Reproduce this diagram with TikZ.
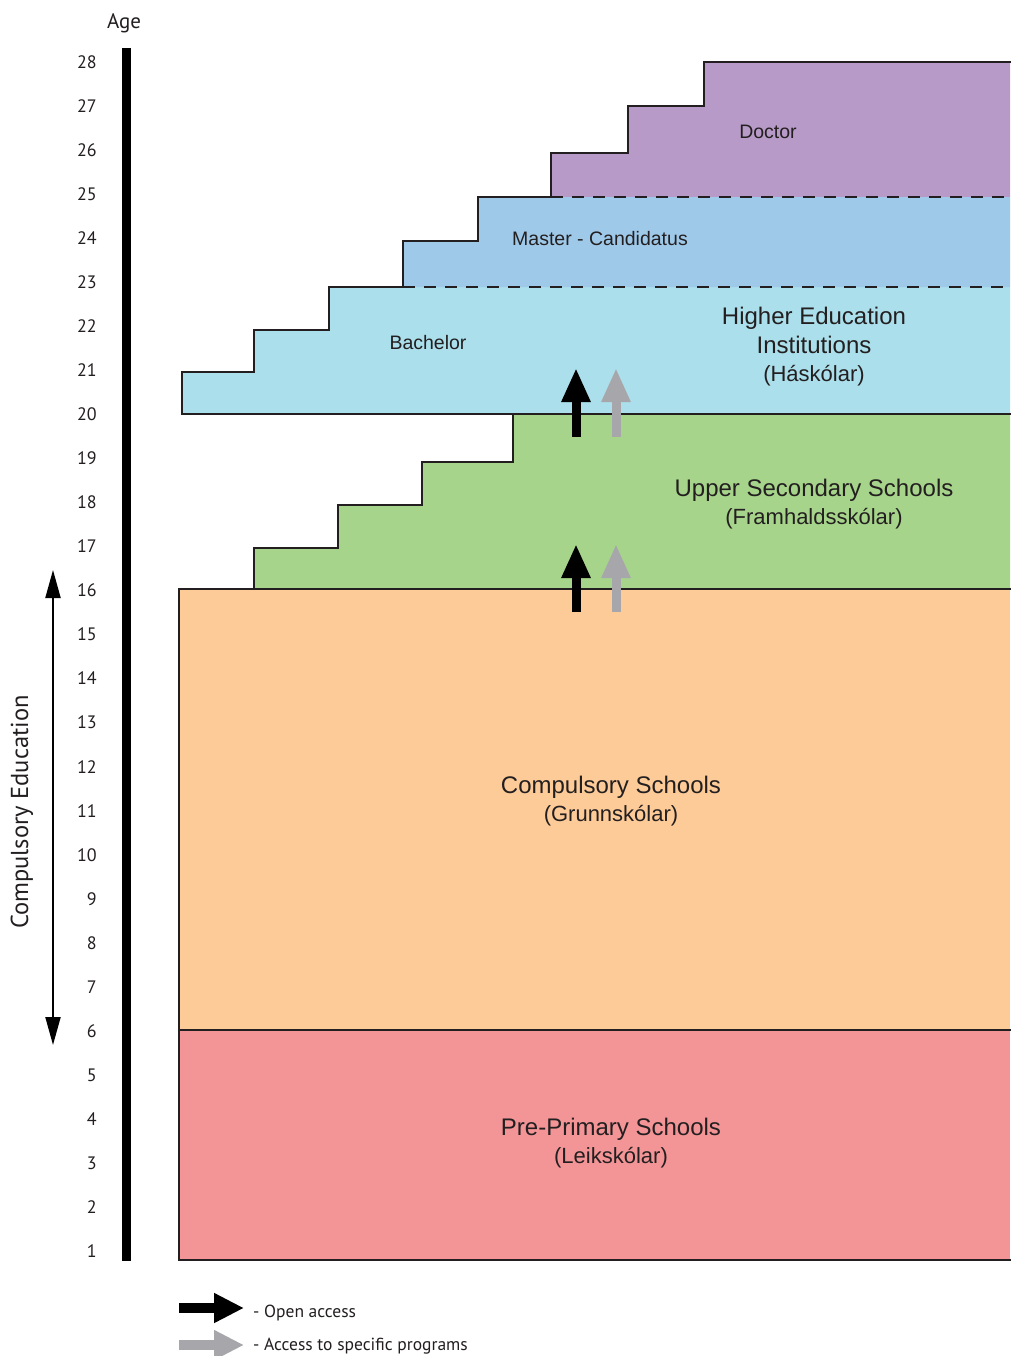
\documentclass[tikz,border=0pt]{standalone}
\usepackage{fontspec}
\setmainfont{Liberation Sans}
\newfontfamily\myr{PT Sans}
\usetikzlibrary{arrows.meta}
\definecolor{docc}{HTML}{B89AC8}
\definecolor{masc}{HTML}{9FC9E9}
\definecolor{bacc}{HTML}{AADFEB}
\definecolor{upsc}{HTML}{A6D48A}
\definecolor{comc}{HTML}{FDCB98}
\definecolor{prec}{HTML}{F39597}
\definecolor{edgec}{HTML}{231F20}
\definecolor{grayarr}{HTML}{A7A7AB}
\definecolor{txt}{HTML}{231F20}
\tikzset{
  border/.style={draw=edgec, line width=1.4pt, line join=miter},
  dashline/.style={draw=edgec, line width=1.4pt, dash pattern=on 12pt off 9pt},
  bigtext/.style={text=txt, font=\fontsize{24}{28.5}\selectfont, align=center, inner sep=0pt},
  smalltext/.style={text=txt, font=\fontsize{19.5}{23}\selectfont, inner sep=0pt},
  agetext/.style={text=txt, font=\myr\fontsize{18}{20}\selectfont, anchor=east, inner sep=0pt},
  openarr/.style={draw=black, line width=9pt, -{Triangle[width=27pt,length=34pt]}},
  specarr/.style={draw=grayarr, line width=9pt, -{Triangle[width=27pt,length=34pt]}},
  legopen/.style={draw=black, line width=10pt, -{Triangle[width=28pt,length=30pt]}},
  legspec/.style={draw=grayarr, line width=10pt, -{Triangle[width=28pt,length=30pt]}},
  legtext/.style={text=txt, font=\myr\fontsize{17.5}{20}\selectfont, anchor=west, inner sep=0pt},
}
\begin{document}
\begin{tikzpicture}[x=1pt,y=-1pt]
\useasboundingbox (0,0) rectangle (1010,1356);
\fill[white] (0,0) rectangle (1010,1356);
% fills
\fill[prec] (179,1030) rectangle (1010,1260);
\fill[comc] (179,589) rectangle (1010,1030);
\fill[upsc] (254,589) -- (254,548) -- (338,548) -- (338,505) -- (422,505) -- (422,462) -- (513,462) -- (513,414) -- (1010,414) -- (1010,589) -- cycle;
\fill[bacc] (182,414) -- (182,372) -- (254,372) -- (254,330) -- (329,330) -- (329,287) -- (1010,287) -- (1010,414) -- cycle;
\fill[masc] (403,287) -- (403,241) -- (478,241) -- (478,197) -- (1010,197) -- (1010,287) -- cycle;
\fill[docc] (551,197) -- (551,153) -- (628,153) -- (628,106) -- (704,106) -- (704,62) -- (1010,62) -- (1010,197) -- cycle;
% borders
\draw[border] (1012,1260) -- (179,1260) -- (179,589) -- (1012,589);
\draw[border] (179,1030) -- (1012,1030);
\draw[border] (254,589) -- (254,548) -- (338,548) -- (338,505) -- (422,505) -- (422,462) -- (513,462) -- (513,414);
\draw[border] (1012,414) -- (182,414) -- (182,372) -- (254,372) -- (254,330) -- (329,330) -- (329,287) -- (403,287) -- (403,241) -- (478,241) -- (478,197) -- (551,197) -- (551,153) -- (628,153) -- (628,106) -- (704,106) -- (704,62) -- (1012,62);
\draw[dashline] (403,287) -- (1012,287);
\draw[dashline] (551,197) -- (1012,197);
% age axis
\coordinate (axtop) at (126,48);
\coordinate (axbot) at (126,1261);
\draw[line width=9pt, black] (axtop) -- (axbot);
\node[text=txt, font=\myr\fontsize{21}{24}\selectfont, inner sep=0pt] (age) at (124,23) {Age};
\foreach \a in {1,...,28} {
  \node[agetext] (n\a) at (97,{62+(28-\a)*44.04}) {\a};
}
% compulsory education arrow
\coordinate (ceTop) at (53,570);
\coordinate (ceBot) at (53,1045);
\draw[line width=2pt, black, {Triangle[width=15pt,length=28pt]}-{Triangle[width=15pt,length=28pt]}] (ceTop) -- (ceBot);
\node[rotate=90, text=txt, font=\myr\fontsize{24.5}{26}\selectfont, inner sep=0pt] (ce) at (22,812) {Compulsory Education};
% labels
\node[smalltext] (doctor) at (768,132) {Doctor};
\node[smalltext] (master) at (600,239) {Master - Candidatus};
\node[smalltext] (bach) at (428,343) {Bachelor};
\node[bigtext] (hei) at (814,347) {Higher Education\\Institutions\\{\fontsize{22}{26}\selectfont(Háskólar)}};
\node[bigtext] (uss) at (814,504) {Upper Secondary Schools\\{\fontsize{22}{26}\selectfont(Framhaldsskólar)}};
\node[bigtext] (cs) at (611,801) {Compulsory Schools\\{\fontsize{22}{26}\selectfont(Grunnskólar)}};
\node[bigtext] (pps) at (611,1143) {Pre-Primary Schools\\{\fontsize{22}{26}\selectfont(Leikskólar)}};
% access arrows
\coordinate (a1s) at (576,437); \coordinate (a1e) at (576,368);
\coordinate (a2s) at (616,437); \coordinate (a2e) at (616,368);
\coordinate (a3s) at (576,612); \coordinate (a3e) at (576,544);
\coordinate (a4s) at (616,612); \coordinate (a4e) at (616,544);
\draw[openarr] (a1s) -- (a1e);
\draw[specarr] (a2s) -- (a2e);
\draw[openarr] (a3s) -- (a3e);
\draw[specarr] (a4s) -- (a4e);
% legend
\coordinate (l1s) at (179,1308); \coordinate (l1e) at (244,1308);
\coordinate (l2s) at (179,1345); \coordinate (l2e) at (244,1345);
\draw[legopen] (l1s) -- (l1e);
\draw[legspec] (l2s) -- (l2e);
\node[legtext] (lt1) at (253,1313) {- Open access};
\node[legtext] (lt2) at (253,1346) {- Access to specific programs};
\end{tikzpicture}
\end{document}
